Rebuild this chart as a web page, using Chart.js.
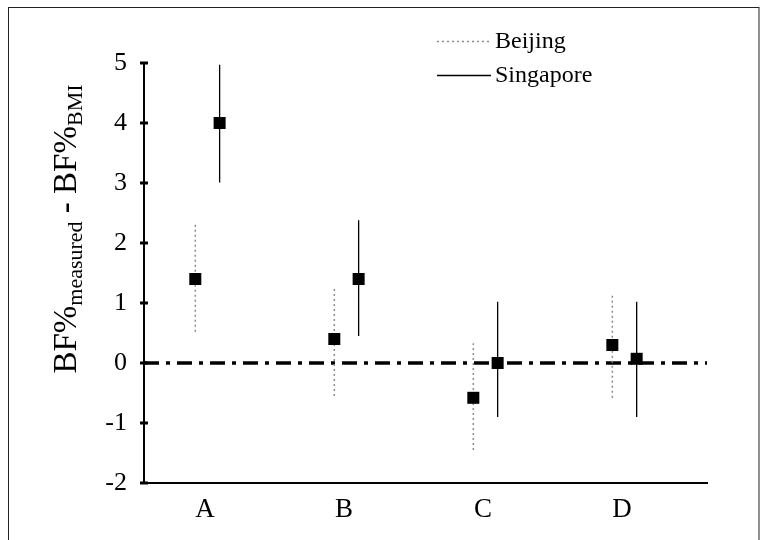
<!DOCTYPE html>
<html>
<head>
<meta charset="utf-8">
<script src="https://cdn.jsdelivr.net/npm/chart.js@4"></script>
<style>
  html, body { margin: 0; padding: 0; background: #fff; }
  #wrap { position: relative; width: 765px; height: 540px; }
</style>
</head>
<body>
<div id="wrap"><canvas id="c" width="765" height="540"></canvas></div>
<script>
// ---- data ----
const categories = ['A', 'B', 'C', 'D'];
const seriesNames = ['Beijing', 'Singapore'];
const beijingMean  = [1.4, 0.4, -0.58, 0.3];
const beijingLower = [0.52, -0.55, -1.45, -0.58];
const beijingUpper = [2.35, 1.27, 0.33, 1.15];
const singaporeMean  = [4.0, 1.4, 0.0, 0.07];
const singaporeLower = [3.01, 0.45, -0.9, -0.9];
const singaporeUpper = [4.97, 2.38, 1.02, 1.02];
const yTicks = [-2, -1, 0, 1, 2, 3, 4, 5];

// ---- styling / layout constants ----
const SERIF = '"Liberation Serif", "Times New Roman", serif';
const dodge = [-0.07, 0.105];
const xMin = 0.561, xMax = 4.611;

function markerData(means, d) {
  return means.map((v, i) => ({ x: i + 1 + d, y: v }));
}
function barData(lo, hi, d) {
  const out = [];
  lo.forEach((v, i) => {
    out.push({ x: i + 1 + d, y: v });
    out.push({ x: i + 1 + d, y: hi[i] });
    out.push({ x: i + 1 + d, y: null });
  });
  return out;
}

const datasets = [
  { type: 'scatter', label: 'Beijing markers', data: markerData(beijingMean, dodge[0]),
    pointStyle: 'rect', pointRadius: 8.5, backgroundColor: '#000', borderWidth: 0, order: 0, isLegend: false },
  { type: 'scatter', label: 'Singapore markers', data: markerData(singaporeMean, dodge[1]),
    pointStyle: 'rect', pointRadius: 8.5, backgroundColor: '#000', borderWidth: 0, order: 0, isLegend: false },
  { type: 'line', label: seriesNames[0], data: barData(beijingLower, beijingUpper, dodge[0]),
    borderColor: '#8a8a8a', borderWidth: 1.5, borderDash: [2, 3], pointRadius: 0, spanGaps: false, order: 1, isLegend: true },
  { type: 'line', label: seriesNames[1], data: barData(singaporeLower, singaporeUpper, dodge[1]),
    borderColor: '#000', borderWidth: 1.3, borderDash: [], pointRadius: 0, spanGaps: false, order: 1, isLegend: true },
  { type: 'line', label: 'zero', data: [{ x: xMin, y: 0 }, { x: xMax, y: 0 }],
    borderColor: '#000', borderWidth: 3.5, borderDash: [15, 7, 4, 7], pointRadius: 0, order: 2, isLegend: false }
];

const framePlugin = {
  id: 'frame',
  beforeDraw(chart) {
    const ctx = chart.ctx;
    ctx.save();
    ctx.fillStyle = '#fff';
    ctx.fillRect(0, 0, chart.width, chart.height);
    ctx.strokeStyle = '#222';
    ctx.lineWidth = 1;
    ctx.strokeRect(8.5, 7.5, 750.5, 545);
    ctx.restore();
  }
};

const tickMarksPlugin = {
  id: 'tickMarks',
  afterDraw(chart) {
    const ctx = chart.ctx;
    const ys = chart.scales.y;
    const left = chart.chartArea.left;
    ctx.save();
    ctx.strokeStyle = '#000';
    ctx.lineWidth = 3;
    ys.ticks.forEach(t => {
      const p = ys.getPixelForValue(t.value);
      ctx.beginPath();
      ctx.moveTo(left - 4, p);
      ctx.lineTo(left + 4, p);
      ctx.stroke();
    });
    ctx.restore();
  }
};

const yTitlePlugin = {
  id: 'yTitle',
  afterDraw(chart) {
    const ctx = chart.ctx;
    const parts = [
      { t: 'BF%', sub: false }, { t: 'measured', sub: true },
      { t: ' - BF%', sub: false }, { t: 'BMI', sub: true }
    ];
    const mainFont = '33px ' + SERIF, subFont = '22px ' + SERIF;
    ctx.save();
    let total = 0;
    parts.forEach(p => { ctx.font = p.sub ? subFont : mainFont; p.w = ctx.measureText(p.t).width; total += p.w; });
    ctx.translate(76, 229);
    ctx.rotate(-Math.PI / 2);
    ctx.fillStyle = '#000';
    ctx.textBaseline = 'alphabetic';
    ctx.textAlign = 'left';
    let x = -total / 2;
    parts.forEach(p => {
      ctx.font = p.sub ? subFont : mainFont;
      ctx.fillText(p.t, x, p.sub ? 6 : 0);
      x += p.w;
    });
    ctx.restore();
  }
};

const legendPlugin = {
  id: 'customLegend',
  afterDraw(chart) {
    const ctx = chart.ctx;
    const items = chart.data.datasets.filter(d => d.isLegend);
    const rowsY = [41, 75];
    ctx.save();
    items.forEach((d, i) => {
      const y = rowsY[i];
      ctx.strokeStyle = d.borderColor;
      ctx.lineWidth = d.borderWidth;
      ctx.setLineDash(d.borderDash || []);
      ctx.beginPath();
      ctx.moveTo(437, y + 0.5);
      ctx.lineTo(491, y + 0.5);
      ctx.stroke();
      ctx.setLineDash([]);
      ctx.fillStyle = '#000';
      ctx.font = '24px ' + SERIF;
      ctx.textBaseline = 'middle';
      ctx.textAlign = 'left';
      ctx.fillText(d.label, 495, y + 1);
    });
    ctx.restore();
  }
};

new Chart(document.getElementById('c'), {
  data: { datasets },
  options: {
    responsive: false,
    animation: false,
    events: [],
    layout: { padding: { left: 0, top: 63, right: 58, bottom: 0 } },
    plugins: { legend: { display: false }, tooltip: { enabled: false }, title: { display: false } },
    scales: {
      x: {
        type: 'linear', position: 'bottom', min: xMin, max: xMax,
        afterFit(s) { s.height = 57; },
        afterBuildTicks(s) { s.ticks = categories.map((c, i) => ({ value: i + 1 })); },
        grid: { display: false, drawTicks: false },
        border: { display: true, color: '#000', width: 2 },
        ticks: {
          padding: 11, color: '#000', font: { family: SERIF, size: 27 },
          callback: (v) => categories[Math.round(v) - 1] ?? ''
        }
      },
      y: {
        type: 'linear', position: 'left', min: -2, max: 5,
        afterFit(s) { s.width = 144; },
        afterBuildTicks(s) { s.ticks = yTicks.map(v => ({ value: v })); },
        grid: { display: false, drawTicks: false },
        border: { display: true, color: '#000', width: 2 },
        ticks: { padding: 17, color: '#000', font: { family: SERIF, size: 26 } }
      }
    }
  },
  plugins: [framePlugin, tickMarksPlugin, yTitlePlugin, legendPlugin]
});
</script>
</body>
</html>
